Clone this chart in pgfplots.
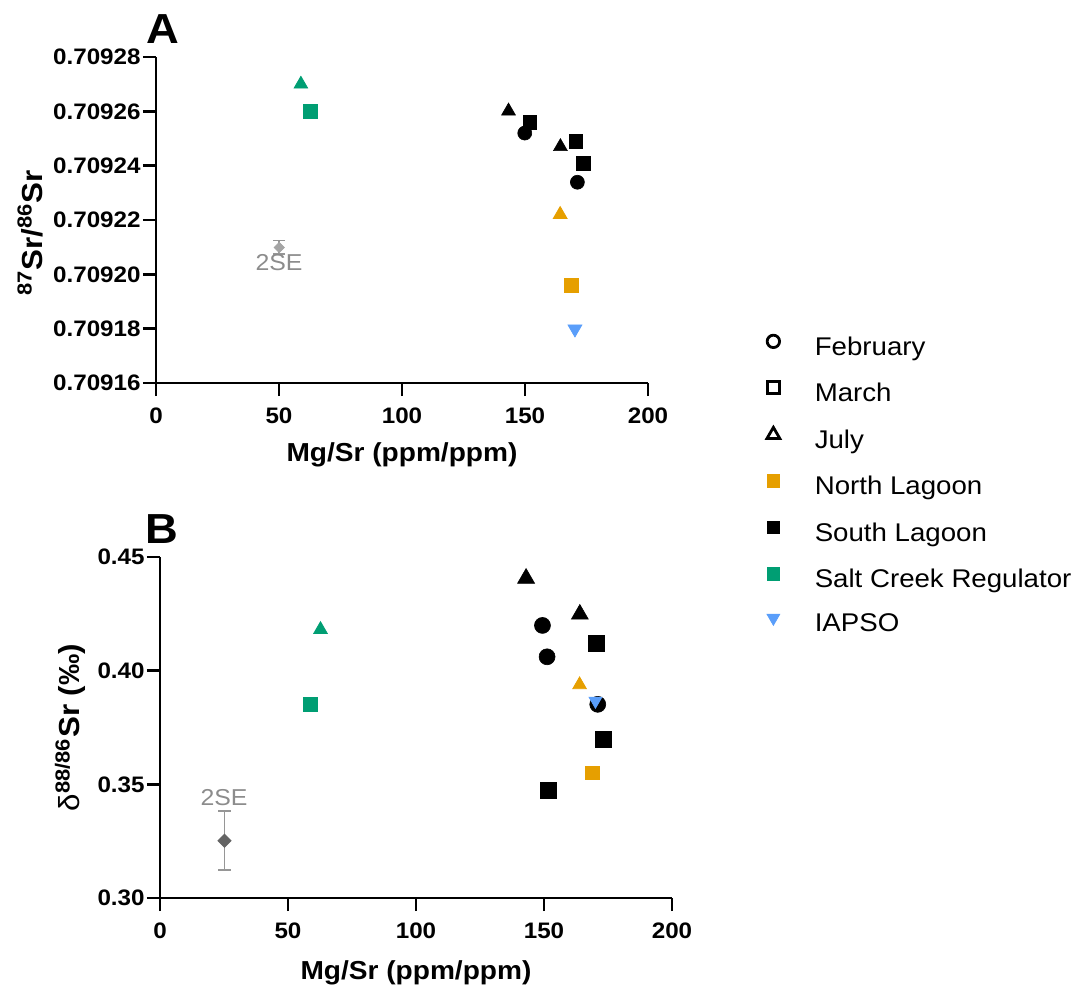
\documentclass[border=0pt]{standalone}
\usepackage{pgfplots}
\pgfplotsset{compat=1.18}
\usepackage{fontspec}
\setmainfont{Liberation Sans}[FakeStretch=1.08]
\definecolor{nlag}{RGB}{230,159,0}
\definecolor{scr}{RGB}{0,158,115}
\definecolor{iapso}{RGB}{90,158,250}
\definecolor{segrey}{RGB}{140,140,140}
\definecolor{diaA}{RGB}{165,165,165}
\definecolor{diaB}{RGB}{100,100,100}
\definecolor{ebar}{RGB}{150,150,150}
\pgfplotsset{
  gp/.style={
    scale only axis,
    axis lines*=left,
    axis line style={line width=1.4pt, black},
    tick style={line width=1.4pt, black},
    tick align=outside,
    major tick length=6.5pt,
    xmin=0, xmax=200,
    xtick={0,50,100,150,200},
    xticklabels={0,50,100,150,200},
    ticklabel style={font=\bfseries\fontsize{11.2}{12}\selectfont},
    yticklabel style={inner sep=1pt},
    xticklabel style={inner sep=0pt, yshift=-5.5pt},
    enlargelimits=false,
    clip=false,
    every axis x label/.style={at={(axis description cs:0.5,-0.221)}, anchor=center, font=\bfseries\fontsize{13}{14}\selectfont},
  },
  blk/.style={only marks, black, mark options={line width=0.3pt}},
}
\begin{document}
\begin{tikzpicture}
\useasboundingbox (0,0) rectangle (539pt,496pt);
% ---------------- Panel A ----------------
% y values stored as (87Sr/86Sr - 0.709) x 10^5
\begin{axis}[gp,
  at={(78pt,304.5pt)}, anchor=south west,
  width=246pt, height=163pt,
  ymin=16, ymax=28,
  ytick={16,18,20,22,24,26,28},
  yticklabels={0.70916,0.70918,0.70920,0.70922,0.70924,0.70926,0.70928},
  xlabel={Mg/Sr (ppm/ppm)},
  ylabel={\bfseries\textsuperscript{87}Sr/\textsuperscript{86}Sr},
  every axis y label/.style={at={(axis description cs:-0.256,0.46)}, rotate=90, anchor=center, font=\fontsize{14.5}{15}\selectfont},
  legend style={at={(axis description cs:1.2195,0.1467)}, anchor=north west, draw=none, fill=none, inner sep=0pt, outer sep=0pt, column sep=12pt, row sep=10.6pt, font=\fontsize{12.8}{13}\selectfont, nodes={inner sep=0pt, text height=9pt, text depth=2.5pt}},
  legend cell align=left,
  legend image code/.code={\draw[#1] plot coordinates {(8.5pt,3.6pt)}; \path (0pt,0pt) (17pt,0pt);},
]
\addlegendimage{only marks, mark=o, mark size=3.1pt, mark options={line width=1.4pt, black}}
\addlegendentry{February}
\addlegendimage{only marks, mark=square, mark size=3.1pt, mark options={line width=1.4pt, black}}
\addlegendentry{March}
\addlegendimage{only marks, mark=triangle, mark size=3.7pt, mark options={line width=1.4pt, black}}
\addlegendentry{July}
\addlegendimage{only marks, mark=square*, mark size=3.2pt, nlag}
\addlegendentry{North Lagoon}
\addlegendimage{only marks, mark=square*, mark size=3.2pt, black}
\addlegendentry{South Lagoon}
\addlegendimage{only marks, mark=square*, mark size=3.2pt, scr}
\addlegendentry{Salt Creek Regulator}
\addlegendimage{only marks, mark=triangle*, mark size=3.7pt, mark options={rotate=180}, iapso}
\addlegendentry{IAPSO}
% 2SE
\addplot[forget plot, only marks, mark=square*, mark size=1.8pt, mark options={rotate=45, diaA},
  error bars/.cd, y dir=both, y explicit,
  error bar style={ebar, line width=0.8pt},
  error mark options={ebar, line width=0.8pt, mark size=3pt, rotate=90}]
  coordinates {(50.1,20.99) +- (0,0.25)};
\node[text=segrey, font=\fontsize{11.5}{12}\selectfont] at (axis cs:50,20.43) {2SE};
% South Lagoon
\addplot[forget plot, blk, mark=*, mark size=3.5pt] coordinates {(149.9,25.20) (171.3,23.39)};
\addplot[forget plot, blk, mark=square*, mark size=3.4pt] coordinates {(151.9,25.59) (170.6,24.89) (173.7,24.09)};
\addplot[forget plot, blk, mark=triangle*, mark size=4pt] coordinates {(143.3,26.01) (164.4,24.70)};
% North Lagoon
\addplot[forget plot, only marks, nlag, mark=triangle*, mark size=4pt] coordinates {(164.3,22.20)};
\addplot[forget plot, only marks, nlag, mark=square*, mark size=3.4pt] coordinates {(168.9,19.59)};
% Salt Creek Regulator
\addplot[forget plot, only marks, scr, mark=triangle*, mark size=3.9pt] coordinates {(58.9,27.00)};
\addplot[forget plot, only marks, scr, mark=square*, mark size=3.4pt] coordinates {(62.8,26.00)};
% IAPSO
\addplot[forget plot, only marks, iapso, mark=triangle*, mark size=4pt, mark options={rotate=180}] coordinates {(170.3,17.99)};
\node[font=\bfseries\fontsize{21}{21}\selectfont] at (axis description cs:0.014,1.086) {A};
\end{axis}
% ---------------- Panel B ----------------
\begin{axis}[gp,
  at={(80pt,47pt)}, anchor=south west,
  width=256pt, height=170.5pt,
  ymin=0.30, ymax=0.45,
  ytick={0.30,0.35,0.40,0.45},
  yticklabels={0.30,0.35,0.40,0.45},
  xlabel={Mg/Sr (ppm/ppm)},
  every axis x label/.style={at={(axis description cs:0.5,-0.22)}, anchor=center, font=\bfseries\fontsize{13}{14}\selectfont},
  ylabel={δ\textsuperscript{\bfseries 88/86}\textbf{Sr (‰)}},
  every axis y label/.style={at={(axis description cs:-0.175,0.5)}, rotate=90, anchor=center, font=\fontsize{14.5}{15}\selectfont},
]
% 2SE
\addplot[only marks, mark=square*, mark size=2.3pt, mark options={rotate=45, diaB},
  error bars/.cd, y dir=both, y explicit,
  error bar style={ebar, line width=0.8pt},
  error mark options={ebar, line width=0.8pt, mark size=3.2pt, rotate=90}]
  coordinates {(25.2,0.3252) +- (0,0.013)};
\node[text=segrey, font=\fontsize{11.5}{12}\selectfont] at (axis cs:25,0.3442) {2SE};
% South Lagoon
\addplot[blk, mark=*, mark size=4pt] coordinates {(149.4,0.4199) (151.2,0.4061) (171.0,0.3852)};
\addplot[blk, mark=square*, mark size=4pt] coordinates {(170.3,0.4120) (173.3,0.3700) (151.6,0.3473)};
\addplot[blk, mark=triangle*, mark size=4.9pt] coordinates {(143.0,0.4406) (164.0,0.4248)};
% North Lagoon
\addplot[only marks, nlag, mark=triangle*, mark size=3.9pt] coordinates {(163.9,0.3938)};
\addplot[only marks, nlag, mark=square*, mark size=3.4pt] coordinates {(168.8,0.3550)};
% Salt Creek Regulator
\addplot[only marks, scr, mark=triangle*, mark size=3.9pt] coordinates {(62.7,0.4181)};
\addplot[only marks, scr, mark=square*, mark size=3.4pt] coordinates {(58.8,0.3852)};
% IAPSO
\addplot[only marks, iapso, mark=triangle*, mark size=3.7pt, mark options={rotate=180}] coordinates {(170.1,0.3867)};
\node[font=\bfseries\fontsize{21}{21}\selectfont] at (axis description cs:0.004,1.082) {B};
\end{axis}
\end{tikzpicture}
\end{document}
